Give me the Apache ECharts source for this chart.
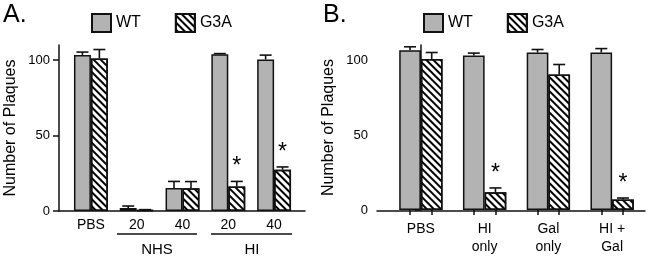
<!DOCTYPE html>
<html>
<head>
<meta charset="utf-8">
<script src="https://cdn.jsdelivr.net/npm/echarts@6/dist/echarts.min.js"></script>
<style>
  html, body { margin: 0; padding: 0; background: #fff; }
  #chart { width: 650px; height: 256px; }
</style>
</head>
<body>
<div id="chart"></div>
<script>
// panel A
const catsA = ["PBS", "20", "40", "20", "40"];
const wtA = [103.3, 2, 15.2, 103.8, 100.4];
const wtErrA = [2, 1.3, 4.4, 0.5, 2.9];
const g3aA = [101, 0.5, 15, 16.3, 27.4];
const g3aErrA = [6, 0.4, 4.5, 3.3, 1.8];
const sigA = [0, 0, 0, 1, 1];

// panel B
const catsB = ["PBS", "HI\nonly", "Gal\nonly", "HI +\nGal"];
const wtB = [106.5, 103, 105, 105];
const wtErrB = [2.3, 1.6, 2, 2.6];
const g3aB = [100.6, 11.8, 90.3, 7];
const g3aErrB = [4.4, 2.9, 6.7, 1];
const sigB = [0, 1, 0, 1];

const yTicks = [0, 50, 100];

const FONT = "Liberation Sans";
const RATIO_A = 0.37;
const RATIO_B = 0.34;

const hatch = {
  symbol: "rect",
  symbolSize: 1,
  dashArrayX: [1, 0],
  dashArrayY: [2, 2.2],
  rotation: Math.PI / 4,
  color: "#000",
};

function rows(vals, errs, sig) {
  return vals.map(function (v, i) {
    return [i, v, errs[i], sig[i]];
  });
}

function errRender(sign, ratio) {
  return function (params, api) {
    var i = api.value(0);
    var v = api.value(1);
    var e = api.value(2);
    var s = api.value(3);
    var band = api.size([1, 0])[0];
    var x = api.coord([i, 0])[0] + (sign * band * ratio) / 2;
    var y0 = api.coord([i, v])[1];
    var y1 = api.coord([i, v + e])[1];
    var st = { stroke: "#111", lineWidth: 1.6 };
    var kids = [
      { type: "line", shape: { x1: x, y1: y0, x2: x, y2: y1 }, style: st },
      { type: "line", shape: { x1: x - 6, y1: y1, x2: x + 6, y2: y1 }, style: st },
    ];
    if (s) {
      kids.push({
        type: "text",
        style: {
          text: "*", x: x, y: y1 - 3, align: "center", verticalAlign: "bottom",
          fontSize: 23, fontFamily: FONT, fill: "#000",
        },
      });
    }
    return { type: "group", children: kids };
  };
}

function barSeries(name, data, xi, yi, ratio, hatched) {
  var style = {
    color: hatched ? "#fff" : "#b3b3b3",
    borderColor: "#111",
    borderWidth: 1.5,
  };
  if (hatched) style.decal = hatch;
  return {
    name: name,
    type: "bar",
    xAxisIndex: xi,
    yAxisIndex: yi,
    data: data,
    barWidth: ratio * 100 + "%",
    barGap: "0%",
    itemStyle: style,
  };
}

function errSeries(data, xi, yi, sign, ratio) {
  return {
    name: "err",
    type: "custom",
    xAxisIndex: xi,
    yAxisIndex: yi,
    data: data,
    encode: { x: 0, y: 1 },
    z: 5,
    renderItem: errRender(sign, ratio),
  };
}

function yAxis(gi, off) {
  return {
    type: "value",
    gridIndex: gi,
    min: 0,
    max: 110,
    offset: off,
    name: "Number of Plaques",
    nameLocation: "middle",
    nameGap: 40,
    nameTextStyle: { fontSize: 16, fontFamily: FONT, color: "#000" },
    axisLine: { show: true, lineStyle: { color: "#111", width: 1.5 } },
    axisTick: { show: true, length: 6, customValues: yTicks, lineStyle: { color: "#111", width: 1.5 } },
    axisLabel: { customValues: yTicks, fontSize: 13, fontFamily: FONT, color: "#000", margin: 9 },
    splitLine: { show: false },
  };
}

function frameX(gi) {
  return {
    type: "value", gridIndex: gi, min: 0, max: 1, position: "bottom",
    axisLine: { show: true, lineStyle: { color: "#111", width: 1.5 } },
    axisTick: { show: false }, axisLabel: { show: false }, splitLine: { show: false },
  };
}

function frameY(gi) {
  return { type: "value", gridIndex: gi, min: 0, max: 110, show: false };
}

function legend(left) {
  return {
    left: left, top: 8, data: ["WT", "G3A"], icon: "rect",
    itemWidth: 19, itemHeight: 18, itemGap: 34,
    textStyle: { fontSize: 16, fontFamily: FONT, color: "#000" },
  };
}

// tick positions under each bar of panel B, in band units
var ticksB = [];
catsB.forEach(function (c, i) {
  ticksB.push(i - RATIO_B / 2, i + RATIO_B / 2);
});

const chart = echarts.init(document.getElementById("chart"));
var option = {
  animation: false,
  textStyle: { fontFamily: FONT },
  legend: [legend(86), legend(418)],
  grid: [
    { left: 68, top: 45, width: 229, height: 166 },
    { left: 59, top: 45, width: 246, height: 166 },
    { left: 389, top: 45, width: 255, height: 166 },
    { left: 377, top: 45, width: 268, height: 166 },
  ],
  xAxis: [
    {
      type: "category", gridIndex: 0, data: catsA, position: "bottom",
      axisLine: { show: false }, axisTick: { show: false },
      axisLabel: { fontSize: 14, fontFamily: FONT, color: "#000", margin: 7 },
    },
    frameX(1),
    {
      type: "category", gridIndex: 2, data: catsB, position: "bottom",
      axisLine: { show: false }, axisTick: { show: false },
      axisLabel: { fontSize: 14, fontFamily: FONT, color: "#000", margin: 10, lineHeight: 18 },
    },
    {
      type: "value", gridIndex: 2, min: -0.5, max: catsB.length - 0.5, position: "bottom",
      axisLine: { show: false },
      axisTick: { show: true, length: 5, customValues: ticksB, lineStyle: { color: "#111", width: 1.5 } },
      axisLabel: { show: false }, splitLine: { show: false },
    },
    frameX(3),
  ],
  yAxis: [yAxis(0, 9), frameY(1), yAxis(2, 12), frameY(3)],
  series: [
    barSeries("WT", wtA, 0, 0, RATIO_A, false),
    barSeries("G3A", g3aA, 0, 0, RATIO_A, true),
    errSeries(rows(wtA, wtErrA, [0, 0, 0, 0, 0]), 0, 0, -1, RATIO_A),
    errSeries(rows(g3aA, g3aErrA, sigA), 0, 0, 1, RATIO_A),
    barSeries("WT", wtB, 2, 2, RATIO_B, false),
    barSeries("G3A", g3aB, 2, 2, RATIO_B, true),
    errSeries(rows(wtB, wtErrB, [0, 0, 0, 0]), 2, 2, -1, RATIO_B),
    errSeries(rows(g3aB, g3aErrB, sigB), 2, 2, 1, RATIO_B),
  ],
  graphic: [
    { type: "text", left: 3, top: 3, style: { text: "A.", fontSize: 25, fontFamily: FONT, fill: "#000" } },
    { type: "text", left: 323, top: 3, style: { text: "B.", fontSize: 25, fontFamily: FONT, fill: "#000" } },
    { type: "line", shape: { x1: 117, y1: 234, x2: 197, y2: 234 }, style: { stroke: "#111", lineWidth: 1.5 } },
    { type: "line", shape: { x1: 211, y1: 234, x2: 292, y2: 234 }, style: { stroke: "#111", lineWidth: 1.5 } },
    { type: "text", x: 157, y: 250, style: { text: "NHS", fontSize: 15, fontFamily: FONT, fill: "#000", align: "center", verticalAlign: "middle" } },
    { type: "text", x: 252, y: 250, style: { text: "HI", fontSize: 15, fontFamily: FONT, fill: "#000", align: "center", verticalAlign: "middle" } },
  ],
};
chart.setOption(option);
</script>
</body>
</html>
